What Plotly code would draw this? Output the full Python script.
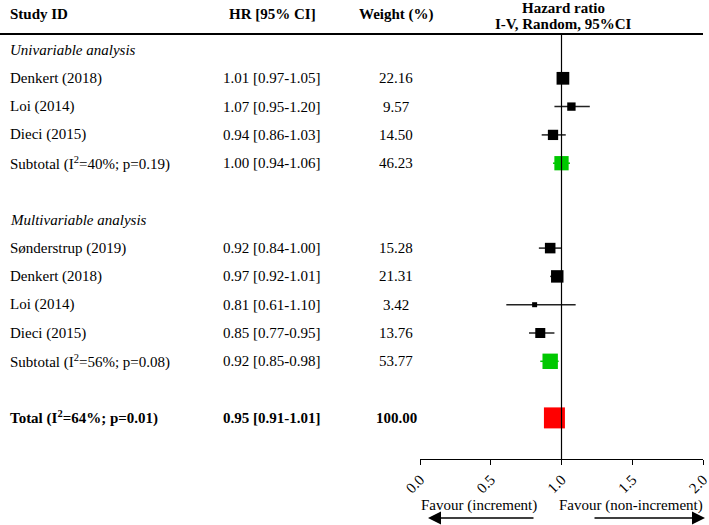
import plotly.graph_objects as go

# ---------------- data ----------------
uni_studies = ["Denkert (2018)", "Loi (2014)", "Dieci (2015)"]
uni_hr = [1.01, 1.07, 0.94]
uni_lo = [0.97, 0.95, 0.86]
uni_hi = [1.05, 1.20, 1.03]
uni_w = [22.16, 9.57, 14.50]
uni_sub_label = "Subtotal (I<sup>2</sup>=40%; p=0.19)"
uni_sub = [1.00, 0.94, 1.06, 46.23]

multi_studies = ["Sønderstrup (2019)", "Denkert (2018)", "Loi (2014)", "Dieci (2015)"]
multi_hr = [0.92, 0.97, 0.81, 0.85]
multi_lo = [0.84, 0.92, 0.61, 0.77]
multi_hi = [1.00, 1.01, 1.10, 0.95]
multi_w = [15.28, 21.31, 3.42, 13.76]
multi_sub_label = "Subtotal (I<sup>2</sup>=56%; p=0.08)"
multi_sub = [0.92, 0.85, 0.98, 53.77]

total_label = "Total (I<sup>2</sup>=64%; p=0.01)"
total = [0.95, 0.91, 1.01, 100.00]

section_labels = ["Univariable analysis", "Multivariable analysis"]
headers = ["Study ID", "HR [95% CI]", "Weight (%)", "Hazard ratio", "I-V, Random, 95%CI"]
tick_vals = [0.0, 0.5, 1.0, 1.5, 2.0]
tick_text = ["0.0", "0.5", "1.0", "1.5", "2.0"]
favour_labels = ["Favour (increment)", "Favour (non-increment)"]

# ---------------- layout helpers ----------------
W, H = 709, 525
FONT = "Liberation Serif, Times New Roman, serif"
FS = 15
ROW0_PX, ROW_H = 50.0, 28.3
PLOT_BOTTOM_PX = 459.0
X0_PX, X1_PX = 420.0, 703.0


def px_to_row(p):
    return (p - ROW0_PX) / ROW_H


def px_x(p):
    return p / W


def px_y(p):
    return (H - p) / H


# build row list
rows = []  # (kind, label, hr, lo, hi, w)
rows.append(("section", section_labels[0], None, None, None, None))
for i in range(len(uni_studies)):
    rows.append(("study", uni_studies[i], uni_hr[i], uni_lo[i], uni_hi[i], uni_w[i]))
rows.append(("sub", uni_sub_label, *uni_sub))
rows.append(("blank", "", None, None, None, None))
rows.append(("section", section_labels[1], None, None, None, None))
for i in range(len(multi_studies)):
    rows.append(("study", multi_studies[i], multi_hr[i], multi_lo[i], multi_hi[i], multi_w[i]))
rows.append(("sub", multi_sub_label, *multi_sub))
rows.append(("blank", "", None, None, None, None))
rows.append(("total", total_label, *total))

fig = go.Figure()

ci_black_x, ci_black_y = [], []
ci_green_x, ci_green_y = [], []
st_x, st_y, st_s = [], [], []
sb_x, sb_y, sb_s = [], [], []
tt_x, tt_y, tt_s = [], [], []
annotations = []

for idx, (kind, label, hr, lo, hi, w) in enumerate(rows):
    y = idx
    if kind == "blank":
        continue
    if kind == "section":
        annotations.append(dict(x=px_x(8), y=y, xref="paper", yref="y", xanchor="left",
                                text=f"<i>{label}</i>", showarrow=False))
        continue
    bold = kind == "total"
    fmt = (lambda s: f"<b>{s}</b>") if bold else (lambda s: s)
    annotations.append(dict(x=px_x(8), y=y, xref="paper", yref="y", xanchor="left",
                            text=fmt(label), showarrow=False))
    annotations.append(dict(x=px_x(272), y=y, xref="paper", yref="y", xanchor="center",
                            text=fmt(f"{hr:.2f} [{lo:.2f}-{hi:.2f}]"), showarrow=False))
    annotations.append(dict(x=px_x(396), y=y, xref="paper", yref="y", xanchor="center",
                            text=fmt(f"{w:.2f}"), showarrow=False))
    if kind == "study":
        ci_black_x += [lo, hi, None]
        ci_black_y += [y, y, None]
        st_x.append(hr); st_y.append(y); st_s.append(2.7 * w ** 0.5)
    elif kind == "sub":
        ci_green_x += [lo, hi, None]
        ci_green_y += [y, y, None]
        sb_x.append(hr); sb_y.append(y); sb_s.append(2.1 * w ** 0.5)
    else:
        tt_x.append(hr); tt_y.append(y); tt_s.append(2.1 * w ** 0.5)

fig.add_trace(go.Scatter(x=ci_black_x, y=ci_black_y, mode="lines",
                         line=dict(color="#222222", width=1.5), hoverinfo="skip"))
fig.add_trace(go.Scatter(x=ci_green_x, y=ci_green_y, mode="lines",
                         line=dict(color="#00C800", width=1.5), hoverinfo="skip"))
fig.add_trace(go.Scatter(x=st_x, y=st_y, mode="markers",
                         marker=dict(symbol="square", size=st_s, color="black", opacity=1,
                                     line=dict(width=0))))
fig.add_trace(go.Scatter(x=sb_x, y=sb_y, mode="markers",
                         marker=dict(symbol="square", size=sb_s, color="#00C800", opacity=1,
                                     line=dict(width=0))))
fig.add_trace(go.Scatter(x=tt_x, y=tt_y, mode="markers",
                         marker=dict(symbol="square", size=tt_s, color="#FF0000", opacity=1,
                                     line=dict(width=0))))

# headers
hdr_y = px_to_row(14)
annotations.append(dict(x=px_x(8), y=hdr_y, xref="paper", yref="y", xanchor="left",
                        text=f"<b>{headers[0]}</b>", showarrow=False))
annotations.append(dict(x=px_x(272), y=hdr_y, xref="paper", yref="y", xanchor="center",
                        text=f"<b>{headers[1]}</b>", showarrow=False))
annotations.append(dict(x=px_x(396), y=hdr_y, xref="paper", yref="y", xanchor="center",
                        text=f"<b>{headers[2]}</b>", showarrow=False))
annotations.append(dict(x=px_x(563), y=px_to_row(8), xref="paper", yref="y", xanchor="center",
                        text=f"<b>{headers[3]}</b>", showarrow=False))
annotations.append(dict(x=px_x(563), y=px_to_row(24), xref="paper", yref="y", xanchor="center",
                        text=f"<b>{headers[4]}</b>", showarrow=False))

# favour labels
annotations.append(dict(x=px_x(479), y=px_y(505), xref="paper", yref="paper", xanchor="center",
                        yanchor="middle", text=favour_labels[0], showarrow=False))
annotations.append(dict(x=px_x(631), y=px_y(505), xref="paper", yref="paper", xanchor="center",
                        yanchor="middle", text=favour_labels[1], showarrow=False))
# arrows (head position in paper coords, tail as pixel offset)
annotations.append(dict(x=px_x(428), y=px_y(518), ax=535 - 428, ay=0,
                        xref="paper", yref="paper", axref="pixel", ayref="pixel",
                        showarrow=True, arrowhead=2, arrowsize=2.0, arrowwidth=1.3,
                        arrowcolor="black", text=""))
annotations.append(dict(x=px_x(705), y=px_y(518), ax=593 - 705, ay=0,
                        xref="paper", yref="paper", axref="pixel", ayref="pixel",
                        showarrow=True, arrowhead=2, arrowsize=2.0, arrowwidth=1.3,
                        arrowcolor="black", text=""))

shapes = [
    dict(type="line", xref="paper", yref="y", x0=0, x1=px_x(703),
         y0=px_to_row(34), y1=px_to_row(34), line=dict(color="black", width=2)),
    dict(type="line", xref="x", yref="y", x0=1, x1=1,
         y0=px_to_row(34), y1=px_to_row(PLOT_BOTTOM_PX), line=dict(color="black", width=1.2)),
]

fig.update_layout(
    width=W, height=H, autosize=False,
    margin=dict(l=0, r=0, t=0, b=0, pad=0, autoexpand=False),
    paper_bgcolor="white", plot_bgcolor="rgba(0,0,0,0)",
    showlegend=False,
    font=dict(family=FONT, size=FS, color="black"),
    annotations=annotations,
    shapes=shapes,
    xaxis=dict(domain=[X0_PX / W, X1_PX / W], range=[0, 2], showgrid=False, zeroline=False,
               showline=True, linecolor="black", linewidth=1.2, automargin=False,
               ticks="outside", ticklen=5, tickwidth=1.2, tickcolor="black",
               tickvals=tick_vals, ticktext=tick_text, tickangle=-45,
               ticklabeloverflow="allow",
               tickfont=dict(family=FONT, size=FS, color="black"), fixedrange=True),
    yaxis=dict(domain=[(H - PLOT_BOTTOM_PX) / H, 1], automargin=False,
               range=[px_to_row(PLOT_BOTTOM_PX), px_to_row(0)],
               showgrid=False, zeroline=False, showline=False, showticklabels=False,
               ticks="", fixedrange=True),
)

fig.write_html(
    "out.html",
    config={"responsive": False, "displayModeBar": False},
    post_script="document.body.style.margin='0';document.body.style.overflow='hidden';",
)
